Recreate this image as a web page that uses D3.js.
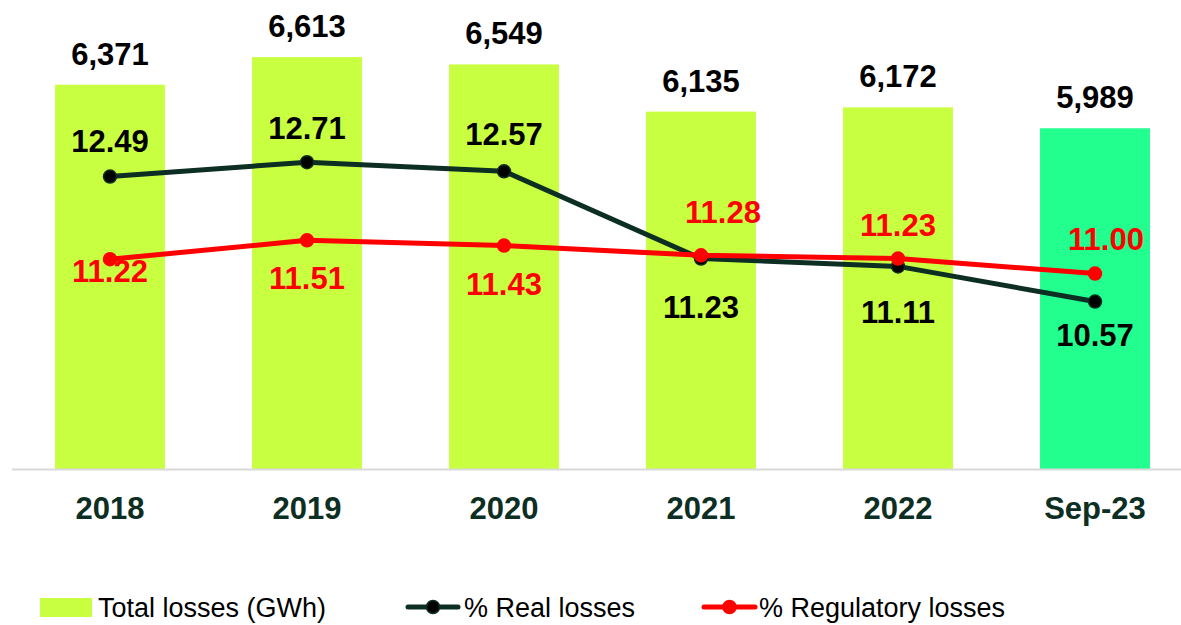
<!DOCTYPE html>
<html>
<head>
<meta charset="utf-8">
<script src="https://cdn.jsdelivr.net/npm/d3@7"></script>
<style>
  html, body { margin: 0; padding: 0; background: #ffffff; }
  svg { display: block; }
</style>
</head>
<body>
<svg id="chart" width="1181" height="625"></svg>
<script>
// Data
const categories = ["2018", "2019", "2020", "2021", "2022", "Sep-23"];
const totalLosses = [6371, 6613, 6549, 6135, 6172, 5989];   // GWh
const realLosses = [12.49, 12.71, 12.57, 11.23, 11.11, 10.57]; // %
const regulatoryLosses = [11.22, 11.51, 11.43, 11.28, 11.23, 11.00]; // %
const legendLabels = ["Total losses (GWh)", "% Real losses", "% Regulatory losses"];

// Label placement relative to each point (dx, dy of text centre)
const realLabelOffsets = [[0, -36], [0, -34], [0, -37], [0, 48], [0, 45], [0, 33]];
const regLabelOffsets = [[0, 12], [0, 37], [0, 38], [22, -43], [0, -34], [11, -35]];

const W = 1181, H = 625;
const plot = { left: 11.5, right: 1193.5, top: 13, bottom: 469 };

const barColor = "#c8ff41";
const lastBarColor = "#22ff8e";
const realColor = "#0c2e23";
const regColor = "#ff0000";
const labelFont = "'Liberation Sans', Arial, sans-serif";
const labelSize = 31;

const svg = d3.select("#chart");

const x = d3.scaleBand()
  .domain(categories)
  .range([plot.left, plot.right])
  .paddingInner(0.442)
  .paddingOuter(0.221);

const yBar = d3.scaleLinear().domain([3000, 7000]).range([plot.bottom, plot.top]);
const yPct = d3.scaleLinear().domain([8, 15]).range([plot.bottom, plot.top]);

const cx = c => x(c) + x.bandwidth() / 2;

// Bars
svg.append("g").selectAll("rect")
  .data(totalLosses)
  .join("rect")
  .attr("x", (d, i) => x(categories[i]))
  .attr("y", d => yBar(d))
  .attr("width", x.bandwidth())
  .attr("height", d => yBar(3000) - yBar(d))
  .attr("fill", (d, i) => i === categories.length - 1 ? lastBarColor : barColor);

// Category axis
const xAxis = d3.axisBottom(x).tickSize(0).tickPadding(0);
const gx = svg.append("g")
  .attr("transform", `translate(0,${plot.bottom})`)
  .call(xAxis);
gx.select(".domain").attr("stroke", "#d9d9d9").attr("stroke-width", 2);
gx.selectAll("text")
  .attr("dy", "1.6em")
  .attr("font-family", labelFont)
  .attr("font-weight", "bold")
  .attr("font-size", labelSize)
  .attr("fill", "#0c2e23");

// Bar value labels
const fmt = d3.format(",");
svg.append("g").selectAll("text")
  .data(totalLosses)
  .join("text")
  .attr("x", (d, i) => cx(categories[i]))
  .attr("y", d => yBar(d) - 20)
  .attr("text-anchor", "middle")
  .attr("font-family", labelFont)
  .attr("font-weight", "bold")
  .attr("font-size", labelSize)
  .attr("fill", "#000")
  .text(d => fmt(d));

// Lines
function drawSeries(values, color, markerFill) {
  const line = d3.line()
    .x((d, i) => cx(categories[i]))
    .y(d => yPct(d));
  const g = svg.append("g");
  g.append("path")
    .datum(values)
    .attr("d", line)
    .attr("fill", "none")
    .attr("stroke", color)
    .attr("stroke-width", 5)
    .attr("stroke-linejoin", "round");
  g.selectAll("circle")
    .data(values)
    .join("circle")
    .attr("cx", (d, i) => cx(categories[i]))
    .attr("cy", d => yPct(d))
    .attr("r", 6.5)
    .attr("fill", markerFill)
    .attr("stroke", color)
    .attr("stroke-width", 1.5);
  return g;
}

drawSeries(realLosses, realColor, "#000000");
drawSeries(regulatoryLosses, regColor, regColor);

function drawLabels(values, color, offsets) {
  svg.append("g").selectAll("text")
    .data(values)
    .join("text")
    .attr("x", (d, i) => cx(categories[i]) + offsets[i][0])
    .attr("y", (d, i) => yPct(d) + offsets[i][1])
    .attr("dy", "0.36em")
    .attr("text-anchor", "middle")
    .attr("font-family", labelFont)
    .attr("font-weight", "bold")
    .attr("font-size", labelSize)
    .attr("fill", color)
    .text(d => d.toFixed(2));
}
drawLabels(realLosses, "#000000", realLabelOffsets);
drawLabels(regulatoryLosses, regColor, regLabelOffsets);

// Legend
const legend = svg.append("g").attr("font-family", labelFont).attr("font-size", 27).attr("fill", "#000");
const ly = 607;
legend.append("rect").attr("x", 40).attr("y", ly - 9).attr("width", 52).attr("height", 19).attr("fill", barColor);
legend.append("text").attr("x", 98).attr("y", ly).attr("dy", "0.36em").text(legendLabels[0]);

const lineItems = [
  { x0: 408, x1: 458, color: realColor, fill: "#000000", tx: 464, label: legendLabels[1] },
  { x0: 704, x1: 755, color: regColor, fill: regColor, tx: 759, label: legendLabels[2] }
];
lineItems.forEach(it => {
  legend.append("line").attr("x1", it.x0).attr("x2", it.x1).attr("y1", ly).attr("y2", ly)
    .attr("stroke", it.color).attr("stroke-width", 5).attr("stroke-linecap", "round");
  legend.append("circle").attr("cx", (it.x0 + it.x1) / 2).attr("cy", ly).attr("r", 6.5)
    .attr("fill", it.fill).attr("stroke", it.color).attr("stroke-width", 1.5);
  legend.append("text").attr("x", it.tx).attr("y", ly).attr("dy", "0.36em").text(it.label);
});
</script>
</body>
</html>
